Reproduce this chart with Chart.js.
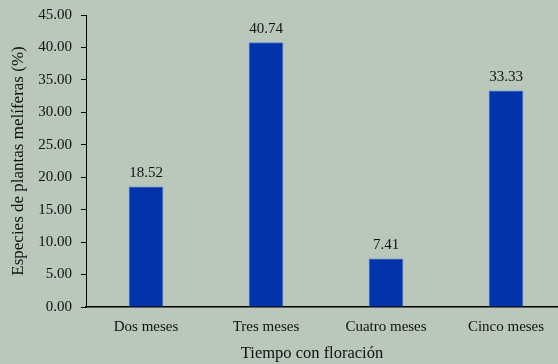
<!DOCTYPE html>
<html>
<head>
<meta charset="utf-8">
<script src="https://cdn.jsdelivr.net/npm/chart.js@4/dist/chart.umd.min.js"></script>
<style>
  html, body { margin: 0; padding: 0; overflow: hidden; background: #b9c8bb; }
  #wrap { width: 572px; height: 364px; }
</style>
</head>
<body>
<div id="wrap"><canvas id="c" width="572" height="364"></canvas></div>
<script>
// Floration period categories and share of melliferous plant species (%)
const categories = ['Dos meses', 'Tres meses', 'Cuatro meses', 'Cinco meses'];
const percentages = [18.52, 40.74, 7.41, 33.33];
const yTicks = [0, 5, 10, 15, 20, 25, 30, 35, 40, 45];

const xTitle = 'Tiempo con floración';
const yTitle = 'Especies de plantas melíferas (%)';

const serif = "'Liberation Serif', 'Times New Roman', serif";
const ink = '#111111';

// Value labels above each bar, positioned from the bar elements
const valueLabels = {
  id: 'valueLabels',
  afterDatasetsDraw(chart) {
    const ctx = chart.ctx;
    const meta = chart.getDatasetMeta(0);
    ctx.save();
    ctx.font = '15px ' + serif;
    ctx.fillStyle = ink;
    ctx.textAlign = 'center';
    ctx.textBaseline = 'alphabetic';
    meta.data.forEach((bar, i) => {
      ctx.fillText(percentages[i].toFixed(2), bar.x, bar.y - 10);
    });
    ctx.restore();
  }
};

// Horizontal axis title, centred under the plot frame
const xAxisTitle = {
  id: 'xAxisTitle',
  afterDraw(chart) {
    const ctx = chart.ctx;
    const area = chart.chartArea;
    ctx.save();
    ctx.font = '16.5px ' + serif;
    ctx.fillStyle = ink;
    ctx.textAlign = 'center';
    ctx.textBaseline = 'alphabetic';
    ctx.fillText(xTitle, area.left + 226, 357.5);
    ctx.restore();
  }
};

new Chart(document.getElementById('c'), {
  type: 'bar',
  data: {
    labels: categories,
    datasets: [{
      data: percentages,
      backgroundColor: '#0134ab',
      borderColor: '#5a84cc',
      borderWidth: 1,
      borderSkipped: 'bottom',
      barThickness: 34
    }]
  },
  options: {
    responsive: false,
    animation: false,
    devicePixelRatio: 1,
    layout: { padding: { left: 0, right: 6, top: 15, bottom: 0 } },
    plugins: {
      legend: { display: false },
      tooltip: { enabled: false }
    },
    scales: {
      x: {
        grid: { display: true, drawOnChartArea: false, drawTicks: false },
        border: { display: true, color: '#000', width: 1.5 },
        ticks: { color: ink, font: { family: serif, size: 15 }, padding: 11 },
        afterFit(scale) { scale.height = 57; }
      },
      y: {
        min: 0,
        max: 45,
        afterBuildTicks(scale) { scale.ticks = yTicks.map(v => ({ value: v })); },
        grid: { display: true, drawOnChartArea: false, drawTicks: true, tickLength: 5, color: '#000' },
        border: { display: true, color: '#000', width: 1 },
        ticks: {
          color: ink,
          font: { family: serif, size: 15 },
          padding: 9,
          callback: v => Number(v).toFixed(2)
        },
        title: {
          display: true,
          text: yTitle,
          color: ink,
          font: { family: serif, size: 17 },
          padding: { top: 8, bottom: 0 }
        },
        afterFit(scale) {
          scale.width = 86;
          scale.paddingTop = 0;
          scale.paddingBottom = 0;
        }
      }
    }
  },
  plugins: [valueLabels, xAxisTitle]
});
</script>
</body>
</html>
